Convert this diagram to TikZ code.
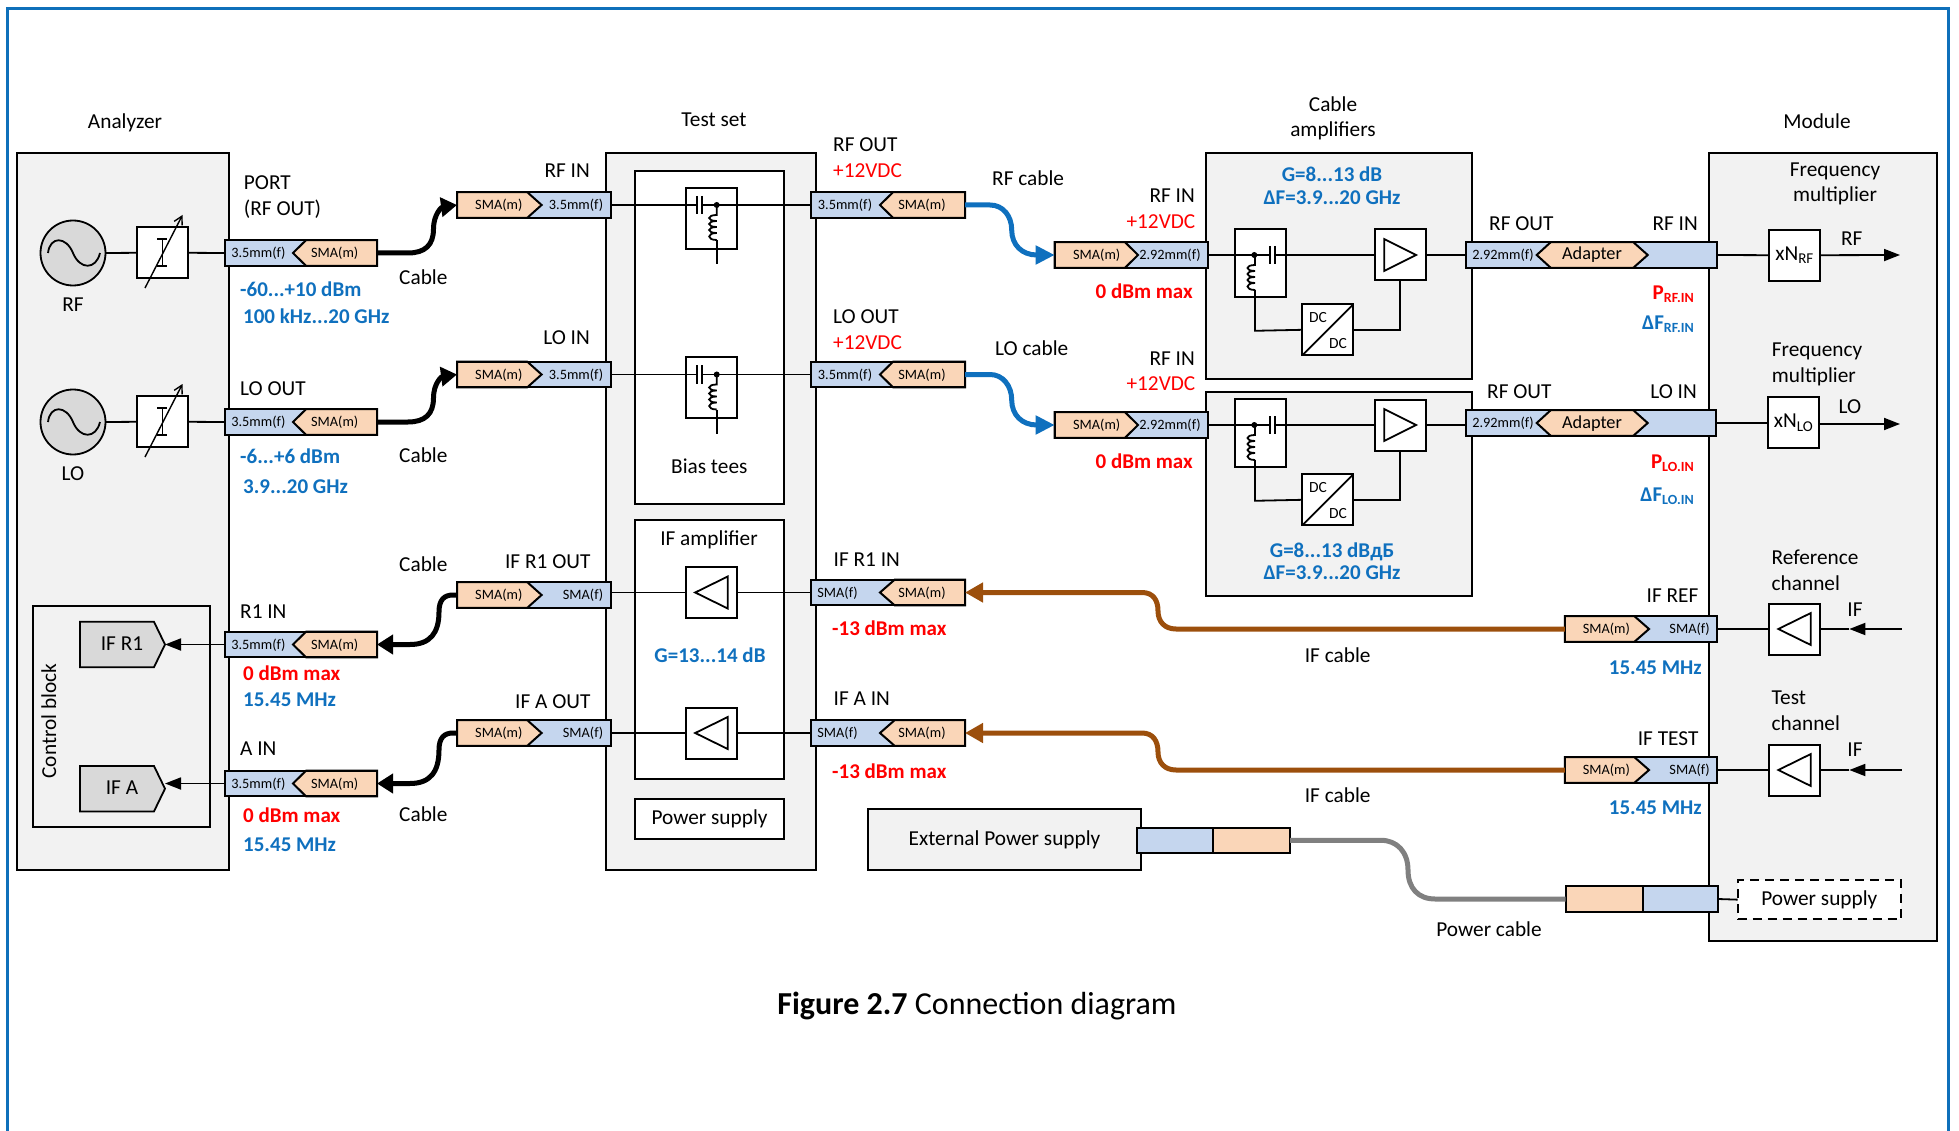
\documentclass[tikz,border=0pt]{standalone}
\usepackage{fontspec}
\setmainfont{Carlito}
\usetikzlibrary{arrows.meta}
\definecolor{portblue}{HTML}{C5D6EE}
\definecolor{portorange}{HTML}{FAD6B8}
\definecolor{panel}{HTML}{F2F2F2}
\definecolor{darkpanel}{HTML}{D9D9D9}
\definecolor{specblue}{HTML}{0F70BE}
\definecolor{framecol}{HTML}{0F70BA}
\definecolor{brown}{HTML}{9C4F0C}
\definecolor{cablegrey}{HTML}{808080}
\newcommand{\rectnode}[7][]{%
  \pgfmathsetmacro\rw{(#5)-(#3)}\pgfmathsetmacro\rh{(#6)-(#4)}%
  \pgfmathsetmacro\rcx{((#5)+(#3))/2}\pgfmathsetmacro\rcy{((#6)+(#4))/2}%
  \node[#1,minimum width=\rw pt,minimum height=\rh pt] (#2) at (\rcx,\rcy) {#7};}
% connector with the male part on the left, tip to the right: name x0 xb xt x1 yc
\newcommand{\connR}[6]{%
  \fill[portblue] (#2,{#6-12.8}) rectangle (#5,{#6+12.8});
  \filldraw[fill=portorange,line width=2pt,draw=black,line join=miter] (#3,{#6-12.8}) -- (#4,#6) -- (#3,{#6+12.8}) -- (#2,{#6+12.8}) -- (#2,{#6-12.8}) -- cycle;
  \rectnode[portframe]{#1}{#2}{#6-12.8}{#5}{#6+12.8}{}}
% connector with the male part on the right, tip to the left: name x0 xt xb x1 yc
\newcommand{\connL}[6]{%
  \fill[portblue] (#2,{#6-12.8}) rectangle (#5,{#6+12.8});
  \filldraw[fill=portorange,line width=2pt,draw=black,line join=miter] (#4,{#6-12.8}) -- (#3,#6) -- (#4,{#6+12.8}) -- (#5,{#6+12.8}) -- (#5,{#6-12.8}) -- cycle;
  \rectnode[portframe]{#1}{#2}{#6-12.8}{#5}{#6+12.8}{}}
% adapter: name x0 xt1 xb1 xb2 xt2 x1 yc
\newcommand{\connA}[8]{%
  \fill[portblue] (#2,{#8-12.8}) rectangle (#7,{#8+12.8});
  \filldraw[fill=portorange,line width=2pt,draw=black,line join=miter] (#4,{#8-12.8}) -- (#3,#8) -- (#4,{#8+12.8}) -- (#5,{#8+12.8}) -- (#6,#8) -- (#5,{#8-12.8}) -- cycle;
  \rectnode[portframe]{#1}{#2}{#8-12.8}{#7}{#8+12.8}{}}
% right-pointing and left-pointing amplifier symbols
\newcommand{\ampR}[3]{%
  \rectnode[whitebox]{#1}{#2}{#3-25.5}{#2+51}{#3+25.5}{}
  \draw[symline] (#2+9.5,#3-16) -- (#2+41.5,#3) -- (#2+9.5,#3+16) -- cycle;}
\newcommand{\ampL}[3]{%
  \rectnode[whitebox]{#1}{#2}{#3-25.5}{#2+51}{#3+25.5}{}
  \draw[symline] (#2+42,#3-16) -- (#2+9.5,#3) -- (#2+42,#3+16) -- cycle;}
% inductor going down from (x,y) with four loops to the left
\newcommand{\coil}[2]{%
  \draw[symline] (#1,#2) -- (#1,#2+10)
   .. controls (#1-10,#2+10) and (#1-10,#2+16) .. (#1,#2+16)
   .. controls (#1-10,#2+16) and (#1-10,#2+22) .. (#1,#2+22)
   .. controls (#1-10,#2+22) and (#1-10,#2+28) .. (#1,#2+28)
   .. controls (#1-10,#2+28) and (#1-10,#2+35) .. (#1,#2+35);}
% capacitor plates at x and x+5
\newcommand{\capa}[2]{%
  \draw[symline] (#1,#2-9) -- (#1,#2+9) (#1+5,#2-9) -- (#1+5,#2+9);}
% bias tee of the test set: name, left x, line y
\newcommand{\biastee}[3]{%
  \rectnode[whitebox]{#1}{#2}{#3-17.3}{#2+51}{#3+43.7}{}
  \capa{#2+10.7}{#3}
  \draw[symline] (#2,#3) -- (#2+10.7,#3) (#2+15.7,#3) -- (#2+51,#3);
  \fill (#2+30.7,#3) circle[radius=3pt];
  \coil{#2+30.7}{#3}
  \draw[symline] (#2+30.7,#3+35) -- (#2+30.7,#3+59);}
% cable amplifier: tee, amplifier and DC/DC converter around line y
\newcommand{\cableamp}[2]{%
  \rectnode[whitebox]{#1tee}{1235}{#2-26}{1286}{#2+42.3}{}
  \capa{1270}{#2}
  \draw[symline] (1235,#2) -- (1270,#2) (1275,#2) -- (1286,#2);
  \fill (1254.3,#2) circle[radius=3pt];
  \coil{1255}{#2}
  \ampR{#1amp}{1374.7}{#2}
  \rectnode[whitebox]{#1dc}{1302.3}{#2+49.3}{1353.3}{#2+100.3}{}
  \draw[symline] (#1dc.south west) -- (#1dc.north east);
  \node[dcl] (#1dca) at (1318,#2+62.7) {DC};
  \node[dcl] (#1dcb) at (1338,#2+88.7) {DC};
  \draw[symline] (1255,#2+35) -- (1255,#2+75.8) -- (#1dc.west);
  \draw[symline] (#1dc.east) -- (#1amp.south |- #1dc.east) -- (#1amp.south);
  \draw[symline] (#1tee.east |- #1amp.west) -- (#1amp.west);}
\tikzset{
  x=1pt,y=-1pt,
  mainf/.style={font=\fontsize{21.3}{21.3}\selectfont},
  boldf/.style={font=\fontsize{21}{21}\selectfont\bfseries,text height=1.1em},
  lab/.style={mainf,inner sep=0pt,text height=1.22em,text depth=0pt},
  labl/.style={lab,anchor=west},
  labr/.style={lab,anchor=east},
  bluel/.style={labl,text=specblue,boldf},
  bluer/.style={labr,text=specblue,boldf},
  bluec/.style={lab,text=specblue,boldf},
  redl/.style={labl,text=red,boldf},
  redr/.style={labr,text=red,boldf},
  vdcl/.style={labl,text=red},
  vdcr/.style={labr,text=red},
  portlab/.style={font=\fontsize{14.3}{14.3}\selectfont,inner sep=0pt,text height=.92em,text depth=0pt},
  dcl/.style={font=\fontsize{15.5}{15.5}\selectfont,inner sep=0pt},
  panelbox/.style={mainf,draw=black,line width=2pt,fill=panel,inner sep=0pt,outer sep=0pt},
  whitebox/.style={mainf,draw=black,line width=2pt,fill=white,inner sep=0pt,outer sep=0pt},
  portframe/.style={draw=black,line width=2pt,inner sep=0pt,outer sep=0pt},
  symline/.style={draw=black,line width=1.8pt},
  sigline/.style={draw=black,line width=1.8pt},
  thinarrow/.style={sigline,-{Triangle[length=16pt,width=12pt]}},
  cableblack/.style={draw=black,line width=5pt,-{Triangle[length=16pt,width=19pt]}},
  cableblue/.style={draw=specblue,line width=5pt,-{Triangle[length=19pt,width=18pt]}},
  cablebrown/.style={draw=brown,line width=5pt,-{Triangle[length=18pt,width=19pt]}},
  cablegray/.style={draw=cablegrey,line width=5pt},
}
\begin{document}
\begin{tikzpicture}[x=1pt,y=-1pt]
\useasboundingbox (0,0) rectangle (1959,1131);
% outer frame, open at the bottom edge
\draw[framecol,line width=3pt] (7.5,1131) -- (7.5,8.5) -- (1948,8.5) -- (1948,1131);
% ---- main panels
\rectnode[panelbox]{analyzer}{17}{153.3}{229}{870}{}
\rectnode[panelbox]{testset}{605.7}{153.3}{816}{870}{}
\rectnode[panelbox]{ampone}{1205.7}{153.3}{1472}{379.3}{}
\rectnode[panelbox]{amptwo}{1205.7}{392.3}{1472}{595.7}{}
\rectnode[panelbox]{module}{1709.3}{153.3}{1937}{941}{}
\rectnode[panelbox]{extps}{868}{809.3}{1141}{870.3}{External Power supply}
\rectnode[panelbox]{ctrl}{32.6}{606}{210}{827}{}
\rectnode[whitebox]{biasbox}{634.7}{171}{784.4}{504}{}
\rectnode[whitebox]{ifbox}{634.7}{520}{784.4}{779}{}
\rectnode[whitebox]{psbox}{634.7}{798.7}{784.4}{839.3}{Power supply}
% panel headings
\node[lab] (tAnalyzer) at (125,122) {Analyzer};
\node[lab] (tTestset) at (714,120) {Test set};
\node[lab] (tCa) at (1333,105.7) {Cable};
\node[lab] (tCb) at (1333,130.7) {amplifiers};
\node[lab] (tModule) at (1817,122) {Module};
% ---- analyzer internals
\foreach \nm/\yy/\tx in {rf/253/RF,lo/422/LO}{
  \node[circle,draw=black,line width=1.8pt,fill=darkpanel,minimum size=65pt,inner sep=0pt,outer sep=0pt] (osc\nm) at (73,\yy) {};
  \draw[symline] (48,\yy) .. controls (50,{\yy-17}) and (66,{\yy-17}) .. (73,\yy) .. controls (80,{\yy+17}) and (96,{\yy+17}) .. (100,\yy);
  \rectnode[whitebox]{att\nm}{137}{\yy-25.7}{188}{\yy+25.3}{}
  \draw[symline] (157,{\yy-14}) -- (167,{\yy-14}) (162.5,{\yy-14}) -- (162.5,{\yy+13}) (157,{\yy+13}) -- (167,{\yy+13});
  \draw[line width=1.4pt,-{Straight Barb[length=8pt,width=9pt]}] (145,{\yy+35}) -- (182.5,{\yy-38});
  \node[lab] (lab\nm) at (73,{\yy+52}) {\tx};
  \draw[sigline] (osc\nm.east) -- (att\nm.west);
}
% pentagons of the control block
\foreach \nm/\yy/\tx in {ifr/644.5/IF R1,ifa/788.7/IF A}{
  \filldraw[fill=darkpanel,draw=black,line width=1.8pt] (80,{\yy-22.7}) -- (154,{\yy-22.7}) -- (165,\yy) -- (154,{\yy+22.7}) -- (80,{\yy+22.7}) -- cycle;
  \node[lab] (\nm) at (122,\yy) {\tx};
  \coordinate (\nm tip) at (165,\yy);
}
\node[lab,rotate=90] (tCtrl) at (50,721) {Control block};
% ---- bias tees and IF amplifiers
\biastee{teeA}{686}{205}
\biastee{teeB}{686}{374.5}
\node[lab] (tBias) at (709.3,467.7) {Bias tees};
\node[lab] (tIFamp) at (709,539) {IF amplifier};
\ampL{ampIa}{685.7}{592.5}
\ampL{ampIb}{685.7}{733}
\node[bluec] (tG) at (710,657) {G=13...14 dB};
% ---- cable amplifiers
\cableamp{cA}{255}
\cableamp{cB}{425}
\node[bluec] (tGa) at (1332,176) {G=8...13 dB};
\node[bluec] (tFa) at (1332,199) {ΔF=3.9...20 GHz};
\node[bluec] (tGb) at (1332,551.7) {G=8...13 dBдБ};
\node[bluec] (tFb) at (1332,574) {ΔF=3.9...20 GHz};
% ---- module internals
\rectnode[whitebox]{xrf}{1768.7}{229.7}{1820}{280.7}{xN\raisebox{-3.5pt}{\fontsize{15}{15}\selectfont RF}}
\rectnode[whitebox]{xlo}{1767.7}{397}{1819}{448}{xN\raisebox{-3.5pt}{\fontsize{15}{15}\selectfont LO}}
\ampL{ampRef}{1768.8}{629}
\ampL{ampTest}{1768.8}{770}
\rectnode[whitebox,dashed,dash pattern=on 9pt off 6pt]{psm}{1737.6}{880}{1901}{919.3}{Power supply}
\coordinate (rfout) at (1900,255);
\coordinate (loout) at (1900,424);
\coordinate (ifinA) at (1901.7,629);
\coordinate (ifinB) at (1901.7,770);
\coordinate (ifmidA) at (1849.3,629);
\coordinate (ifmidB) at (1849.3,770);
\node[lab] (tFm1a) at (1835,170) {Frequency};
\node[lab] (tFm1b) at (1835,195.7) {multiplier};
\node[lab,anchor=west] (tFm2a) at (1771.7,350.7) {Frequency};
\node[lab,anchor=west] (tFm2b) at (1771.7,376.7) {multiplier};
\node[lab] (tRFo) at (1851.7,239) {RF};
\node[lab] (tLOo) at (1850,407) {LO};
\node[labl] (tRc1) at (1771.5,558) {Reference};
\node[labl] (tRc2) at (1771.5,584) {channel};
\node[labl] (tTc1) at (1771.5,698) {Test};
\node[labl] (tTc2) at (1771.5,724) {channel};
\node[lab] (tIFa) at (1855,610.7) {IF};
\node[lab] (tIFb) at (1855,750) {IF};
% ---- connectors, left column
\connL{pA}{224.5}{293}{306}{377}{253}
\connL{pB}{224.5}{293}{306}{377}{422}
\connL{pC}{224.5}{293}{306}{377}{644.5}
\connL{pD}{224.5}{293}{306}{377}{783.5}
\foreach \nn/\yy in {a/253,b/422,c/644.5,d/783.5}{
  \node[portlab] (pl\nn) at (258.4,\yy) {3.5mm(f)};
  \node[portlab] (pr\nn) at (334.7,\yy) {SMA(m)};
}
% connectors at the test set
\connR{qA}{457}{527.3}{541.6}{611}{205}
\connR{qB}{457}{527.3}{541.6}{611}{374.5}
\connR{qC}{457}{527.3}{541.6}{611}{595}
\connR{qD}{457}{527.3}{541.6}{611}{733}
\foreach \nn/\yy/\tt in {a/205/3.5mm(f),b/374.5/3.5mm(f)}{
  \node[portlab] (ql\nn) at (498.8,\yy) {SMA(m)};
  \node[portlab] (qr\nn) at (576,\yy) {\tt};
}
\foreach \nn/\yy in {c/595,d/733}{
  \node[portlab] (ql\nn) at (498.8,\yy) {SMA(m)};
  \node[portlab] (qr\nn) at (583,\yy) {SMA(f)};
}
\connL{sA}{810.7}{880}{893}{965}{205}
\connL{sB}{810.7}{880}{893}{965}{374.5}
\connL{sC}{810.7}{880}{894.6}{965}{592.5}
\connL{sD}{810.7}{880}{894.6}{965}{733}
\foreach \nn/\yy/\tt/\xx in {a/205/3.5mm(f)/845,b/374.5/3.5mm(f)/845,c/592.5/SMA(f)/837.5,d/733/SMA(f)/837.5}{
  \node[portlab] (sl\nn) at (\xx,\yy) {\tt};
  \node[portlab] (sr\nn) at (922,\yy) {SMA(m)};
}
% connectors at the cable amplifiers
\connR{uA}{1054.7}{1125}{1138}{1208}{255}
\connR{uB}{1054.7}{1125}{1138}{1208}{425}
\foreach \nn/\yy in {a/255,b/425}{
  \node[portlab] (ul\nn) at (1096.7,\yy) {SMA(m)};
  \node[portlab] (ur\nn) at (1170,\yy) {2.92mm(f)};
}
% adapters
\connA{vA}{1465.7}{1536.7}{1550.7}{1633.3}{1647.7}{1717.3}{255}
\connA{vB}{1465.7}{1536.7}{1550.7}{1633.3}{1647.7}{1716.3}{423}
\foreach \nn/\yy in {a/255,b/423}{
  \node[portlab] (vl\nn) at (1503,\yy) {2.92mm(f)};
  \node[font=\fontsize{18.3}{18.3}\selectfont,inner sep=0pt,text height=1em,text depth=0pt] (vr\nn) at (1592,\yy) {Adapter};
}
% IF connectors at the module
\connR{wA}{1564.8}{1634.4}{1649}{1717}{629}
\connR{wB}{1564.8}{1634.4}{1649}{1717}{770}
\foreach \nn/\yy in {a/629,b/770}{
  \node[portlab] (wl\nn) at (1606.4,\yy) {SMA(m)};
  \node[portlab] (wr\nn) at (1689.6,\yy) {SMA(f)};
}
% power connectors
\connL{xA}{1137}{1213}{1213}{1290}{840.3}
\connR{xB}{1565.7}{1642.6}{1642.6}{1718}{899}
% ---- thin signal lines
\draw[sigline] (attrf.east) -- (pA.west);
\draw[sigline] (attlo.east) -- (pB.west);
\draw[thinarrow] (pC.west) -- (ifrtip);
\draw[thinarrow] (pD.west) -- (ifatip |- pD.west);
\draw[sigline] (qA.east) -- (teeA.west |- qA.east);
\draw[sigline] (teeA.east |- sA.west) -- (sA.west);
\draw[sigline] (qB.east) -- (teeB.west |- qB.east);
\draw[sigline] (teeB.east |- sB.west) -- (sB.west);
\draw[sigline] (qC.east |- ampIa.west) -- (ampIa.west);
\draw[sigline] (ampIa.east) -- (sC.west);
\draw[sigline] (qD.east) -- (ampIb.west);
\draw[sigline] (ampIb.east) -- (sD.west);
\draw[sigline] (uA.east) -- (cAtee.west |- uA.east);
\draw[sigline] (cAamp.east) -- (vA.west);
\draw[sigline] (uB.east) -- (cBtee.west |- uB.east);
\draw[sigline] (cBamp.east) -- (vB.west |- cBamp.east);
\draw[sigline] (vA.east) -- (xrf.west);
\draw[sigline] (vB.east) -- (xlo.west |- vB.east);
\draw[thinarrow] (xrf.east) -- (rfout);
\draw[thinarrow] (xlo.east |- loout) -- (loout);
\draw[sigline] (wA.east) -- (ampRef.west);
\draw[sigline] (wB.east) -- (ampTest.west);
\draw[thinarrow] (ifinA) -- (ifmidA);
\draw[sigline] (ifmidA) -- (ampRef.east);
\draw[thinarrow] (ifinB) -- (ifmidB);
\draw[sigline] (ifmidB) -- (ampTest.east);
\draw[sigline] (xB.east) -- (psm.west);
% ---- cables
\draw[cableblack] (pA.east) -- (408,253) .. controls (425,253) and (433.5,245) .. (433.5,229) .. controls (433.5,214) and (442,207) .. (qA.west);
\draw[cableblack] (pB.east) -- (408,422) .. controls (425,422) and (433.5,414) .. (433.5,398) .. controls (433.5,383) and (442,376.5) .. (qB.west);
\draw[cableblack] (qC.west) -- (453,595) .. controls (444,595) and (439,600) .. (439,612) .. controls (439,633) and (430,644.5) .. (410,644.5) -- (pC.east);
\draw[cableblack] (qD.west) -- (453,733) .. controls (444,733) and (439,738) .. (439,750) .. controls (439,772) and (430,783.5) .. (410,783.5) -- (pD.east);
\draw[cableblue] (sA.east) -- (990,205) .. controls (1003,205) and (1011.7,216) .. (1011.7,230) .. controls (1011.7,245) and (1022,255) .. (uA.west);
\draw[cableblue] (sB.east) -- (990,374.5) .. controls (1003,374.5) and (1011.7,386) .. (1011.7,400) .. controls (1011.7,415) and (1022,425) .. (uB.west);
\draw[cablebrown] (wA.west) -- (1176,629) .. controls (1165,629) and (1158,622) .. (1158,611) .. controls (1158,600) and (1153,592.5) .. (1142,592.5) -- (sC.east);
\draw[cablebrown] (wB.west) -- (1176,770) .. controls (1165,770) and (1158,763) .. (1158,752) .. controls (1158,741) and (1153,733) .. (1142,733) -- (sD.east);
\draw[cablegray] (xA.east) -- (1381,840.3) .. controls (1397,840.3) and (1408,852) .. (1408,870) .. controls (1408,888) and (1418,899) .. (1435,899) -- (xB.west);
% ---- labels, left side
\node[labl] (t1) at (243.7,183) {PORT};
\node[labl] (t2) at (243.7,209) {(RF OUT)};
\node[bluel] (t3) at (240,291) {-60...+10 dBm};
\node[bluel] (t4) at (243,318) {100 kHz...20 GHz};
\node[labl] (t5) at (240,389) {LO OUT};
\node[bluel] (t6) at (240,458) {-6...+6 dBm};
\node[bluel] (t7) at (243,488) {3.9...20 GHz};
\node[labl] (t8) at (240,612) {R1 IN};
\node[redl] (t9) at (243,675) {0 dBm max};
\node[bluel] (t10) at (243,701) {15.45 MHz};
\node[labl] (t11) at (240,749) {A IN};
\node[redl] (t12) at (243,817) {0 dBm max};
\node[bluel] (t13) at (243,846) {15.45 MHz};
\node[labl] (c1) at (399,278) {Cable};
\node[labl] (c2) at (399,456) {Cable};
\node[labl] (c3) at (399,565) {Cable};
\node[labl] (c4) at (399,815) {Cable};
\node[labr] (t14) at (590,171) {RF IN};
\node[labr] (t15) at (590,338) {LO IN};
\node[labr] (t16) at (590.6,562) {IF R1 OUT};
\node[labr] (t17) at (590.6,702) {IF A OUT};
% labels, middle
\node[labl] (t18) at (833,145.7) {RF OUT};
\node[vdcl] (t19) at (833,171) {+12VDC};
\node[labl] (t20) at (992,179) {RF cable};
\node[labl] (t21) at (833,317) {LO OUT};
\node[vdcl] (t22) at (833,343) {+12VDC};
\node[labl] (t23) at (995,349) {LO cable};
\node[labl] (t24) at (833.5,560.7) {IF R1 IN};
\node[redl] (t25) at (832,630) {-13 dBm max};
\node[labl] (t26) at (833.5,699) {IF A IN};
\node[redl] (t27) at (832,772.7) {-13 dBm max};
\node[labr] (t28) at (1195,196.7) {RF IN};
\node[vdcr] (t29) at (1195.5,222) {+12VDC};
\node[redr] (t30) at (1193,293) {0 dBm max};
\node[labr] (t31) at (1195,359) {RF IN};
\node[vdcr] (t32) at (1195.5,384.7) {+12VDC};
\node[redr] (t33) at (1193,463) {0 dBm max};
% labels, right
\node[labl] (t34) at (1489,224.3) {RF OUT};
\node[labr] (t35) at (1698,224.3) {RF IN};
\node[labl] (t36) at (1487,392) {RF OUT};
\node[labr] (t37) at (1697,392) {LO IN};
\newcommand{\subtxt}[1]{\raisebox{-3pt}{\fontsize{14}{14}\selectfont #1}}
\node[redr] (t38) at (1694,294) {P\subtxt{RF.IN}};
\node[bluer] (t39) at (1694,324) {ΔF\subtxt{RF.IN}};
\node[redr] (t40) at (1694,463) {P\subtxt{LO.IN}};
\node[bluer] (t41) at (1694,495.7) {ΔF\subtxt{LO.IN}};
\node[labr] (t42) at (1698.6,596) {IF REF};
\node[bluer] (t43) at (1702,669) {15.45 MHz};
\node[labr] (t44) at (1698.6,739) {IF TEST};
\node[bluer] (t45) at (1702,809) {15.45 MHz};
\node[lab] (t46) at (1337.7,656.7) {IF cable};
\node[lab] (t47) at (1337.7,796.7) {IF cable};
\node[lab] (t48) at (1489,930) {Power cable};
\node[inner sep=0pt,font=\fontsize{32}{32}\selectfont] (caption) at (977,1006) {\textbf{Figure 2.7} Connection diagram};
\end{tikzpicture}
\end{document}
